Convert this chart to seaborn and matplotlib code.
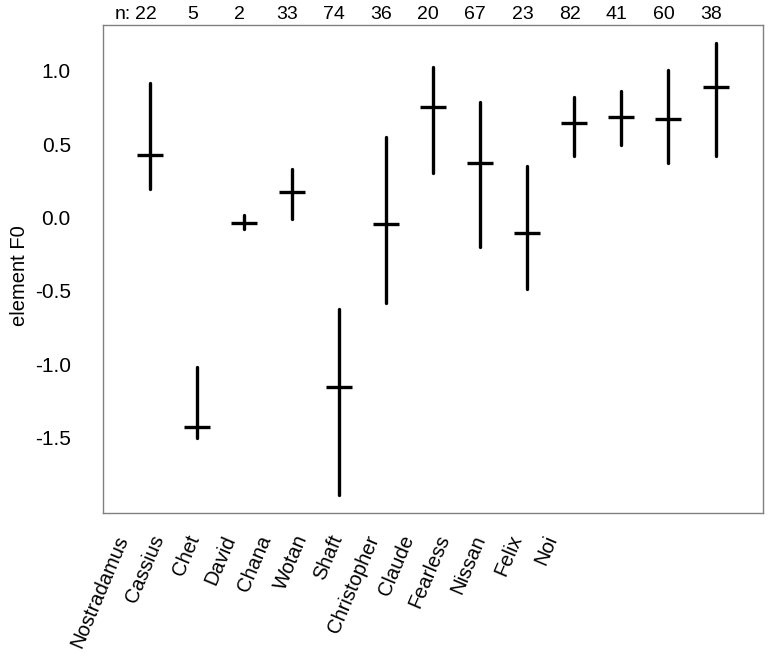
import numpy as np
import pandas as pd
import matplotlib
matplotlib.use("Agg")
import matplotlib.pyplot as plt
import seaborn as sns

names = ["Nostradamus", "Cassius", "Chet", "David", "Chana", "Wotan", "Shaft",
         "Christopher", "Claude", "Fearless", "Nissan", "Felix", "Noi"]
n_counts = [22, 5, 2, 33, 74, 36, 20, 67, 23, 82, 41, 60, 38]
f0_mid = [0.426, -1.426, -0.035, 0.174, -1.153, -0.044, 0.751, 0.374, -0.108, 0.642, 0.683, 0.671, 0.892]
f0_low = [0.196, -1.501, -0.076, -0.012, -1.892, -0.585, 0.305, -0.199, -0.489, 0.421, 0.492, 0.374, 0.421]
f0_high = [0.919, -1.017, 0.017, 0.328, -0.626, 0.547, 1.028, 0.789, 0.351, 0.824, 0.864, 1.005, 1.187]
y_ticks = [-1.5, -1.0, -0.5, 0.0, 0.5, 1.0]

sns.set_style("white")
plt.rcParams["font.family"] = ["Liberation Sans", "DejaVu Sans"]
plt.rcParams["axes.unicode_minus"] = False
plt.rcParams["text.color"] = "black"
plt.rcParams["axes.labelcolor"] = "black"
plt.rcParams["ytick.labelcolor"] = "black"

# long form: low / mid / high per name, median gives the mid, min/max the range
df = pd.DataFrame({
    "name": names * 3,
    "f0": f0_low + f0_mid + f0_high,
})

fig = plt.figure(figsize=(7.71, 6.6), dpi=100)
ax = fig.add_axes([0.1332, 0.2227, 0.8560, 0.7394])

sns.pointplot(data=df, x="name", y="f0", order=names,
              estimator="median", errorbar=lambda v: (v.min(), v.max()),
              color="black", marker="_", markersize=19, markeredgewidth=2.4,
              linestyle="none", err_kws={"linewidth": 2.4}, ax=ax)

ax.set_xlim(-1.01, 13.0)
ax.set_ylim(-2.014, 1.312)
ax.set_yticks(y_ticks)
ax.set_yticklabels(["%.1f" % t for t in y_ticks])
ax.tick_params(axis="y", length=9, width=1, color="#808080", labelsize=15,
               pad=14, labelcolor="black")
ax.tick_params(axis="x", bottom=False, labelbottom=False)
ax.set_xlabel("")
ax.set_ylabel("element F0", fontsize=14.5, color="black")
ax.yaxis.set_label_coords(-0.112, 0.486)
for s in ax.spines.values():
    s.set_color("#808080")
    s.set_linewidth(1)

# sample sizes along the top
for i, n in enumerate(n_counts):
    ax.text(i - 0.1, 1.022, str(n), transform=ax.get_xaxis_transform(),
            ha="center", va="center", fontsize=14)
ax.text(-0.42, 1.022, "n:", transform=ax.get_xaxis_transform(),
        ha="right", va="center", fontsize=14)

# rotated name labels (packed tighter than the data columns)
for i, name in enumerate(names):
    ax.text(0.031 + 0.0542 * i, -0.047, name, transform=ax.transAxes,
            rotation=67, rotation_mode="anchor", ha="right", va="center",
            fontsize=14.5)

fig.savefig("out.png", dpi=100)
